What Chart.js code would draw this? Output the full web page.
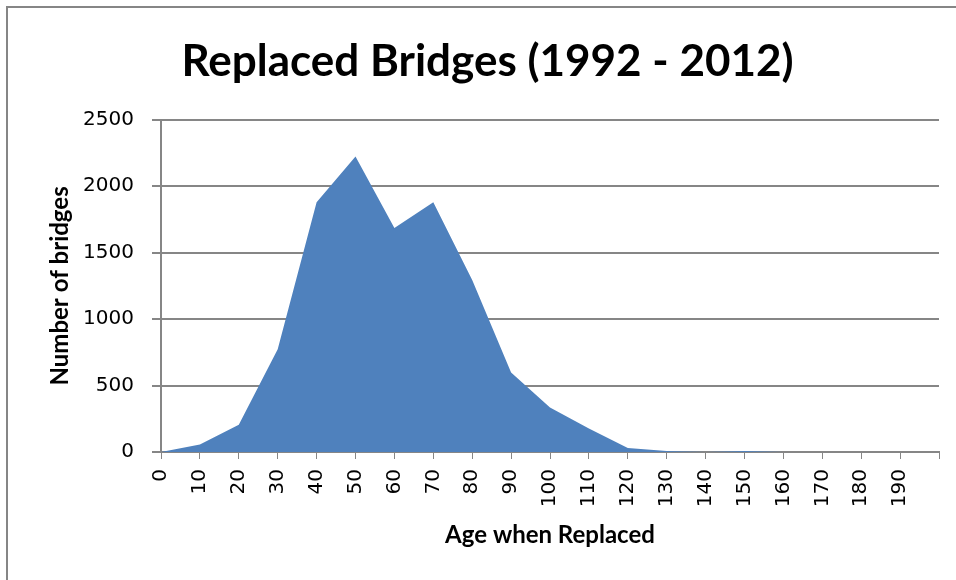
<!DOCTYPE html>
<html>
<head>
<meta charset="utf-8">
<script src="https://cdn.jsdelivr.net/npm/chart.js@4"></script>
<style>
html,body{margin:0;padding:0;background:#fff;}
#wrap{width:956px;height:580px;position:relative;}
</style>
</head>
<body>
<div id="wrap"><canvas id="c" width="956" height="580"></canvas></div>
<script>
const chartTitle = 'Replaced Bridges (1992 - 2012)';
const xTitle = 'Age when Replaced';
const yTitle = 'Number of bridges';
const ages = [0,10,20,30,40,50,60,70,80,90,100,110,120,130,140,150,160,170,180,190];
const bridges = [0,56,206,774,1880,2223,1686,1880,1294,598,335,176,30,7,0,8,0,0,0,0];
const yTicks = [0,500,1000,1500,2000,2500];

const gray = '#868686';
const frame = {
  id:'frame',
  beforeDraw(chart){
    const ctx = chart.ctx;
    ctx.save();
    ctx.fillStyle = '#fff';
    ctx.fillRect(0,0,chart.width,chart.height);
    ctx.strokeStyle = gray;
    ctx.lineWidth = 2;
    ctx.strokeRect(7,7,1200,1200);
    ctx.restore();
  }
};

new Chart(document.getElementById('c'), {
  type:'line',
  data:{
    datasets:[{
      data: ages.map((a,i)=>({x:a,y:bridges[i]})),
      backgroundColor:'#4f81bd',
      borderWidth:0,
      borderColor:'#4f81bd',
      pointRadius:0,
      fill:'origin',
      tension:0
    }]
  },
  options:{
    responsive:false,
    animation:false,
    layout:{padding:{left:36,right:17,top:0,bottom:0}},
    plugins:{
      legend:{display:false},
      tooltip:{enabled:false},
      title:{
        display:true,
        text:chartTitle,
        color:'#000',
        font:{family:'Lato',size:44,weight:'bold',lineHeight:1.2},
        padding:{top:35,bottom:32}
      }
    },
    scales:{
      x:{
        type:'linear',
        min:0,max:200,
        afterFit(s){ s.height = 128; s.paddingRight = 0; s.paddingLeft = 0; },
        ticks:{
          stepSize:10,
          autoSkip:false,
          minRotation:90,maxRotation:90,
          padding:10,
          color:'#000',
          font:{family:'DejaVu Sans',size:20},
          callback:(v)=> v===200 ? '' : String(v)
        },
        grid:{drawOnChartArea:false,drawTicks:true,tickLength:7,color:gray,lineWidth:1},
        border:{display:true,color:gray,width:2},
        title:{display:true,text:xTitle,color:'#000',
          font:{family:'Lato',size:24,weight:'bold',lineHeight:1.2},
          padding:{top:0,bottom:30}}
      },
      y:{
        min:0,max:2500,
        afterFit(s){ s.width = 125; },
        afterBuildTicks(s){ s.ticks = yTicks.map(v=>({value:v})); },
        ticks:{
          padding:18,
          color:'#000',
          font:{family:'DejaVu Sans',size:20},
          callback:(v)=> String(v)
        },
        grid:{color:gray,lineWidth:2,tickLength:9,drawTicks:true},
        border:{display:true,color:gray,width:2},
        title:{display:true,text:yTitle,color:'#000',
          font:{family:'Lato',size:24,weight:'bold',lineHeight:1.2},
          padding:{top:10,bottom:0}}
      }
    }
  },
  plugins:[frame]
});
</script>
</body>
</html>
